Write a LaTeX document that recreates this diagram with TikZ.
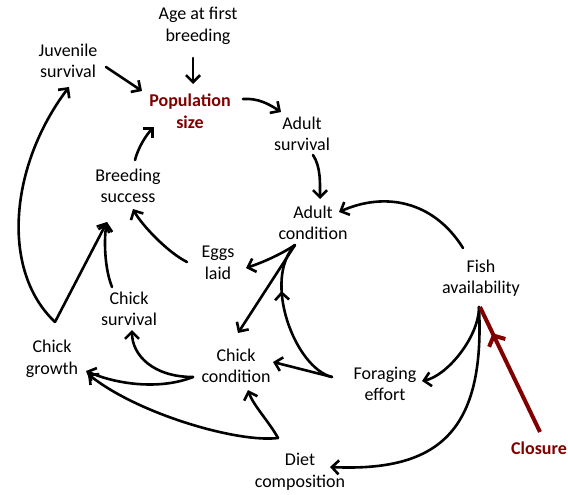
\documentclass[tikz,border=0pt]{standalone}
\usepackage{fontspec}
\setmainfont{Carlito}
\usetikzlibrary{arrows.meta,calc,decorations.markings}
\definecolor{dred}{RGB}{128,0,0}
\begin{document}
\begin{tikzpicture}[x=1pt,y=-1pt,
  lbl/.style={inner sep=0pt, align=center, font=\fontsize{18}{21.5}\selectfont},
  hl/.style={inner sep=0pt, align=center, text=dred, font=\fontsize{18}{21.5}\selectfont\bfseries},
  con/.style={line width=2.6pt, line cap=round, -{Straight Barb[length=7pt,width=14pt]}},
  midarrow/.style={line width=2.6pt, line cap=round, postaction={decorate},
    decoration={markings, mark=at position #1 with {\arrow{Straight Barb[length=7pt,width=14pt]}}}},
  redarrow/.style={draw=dred, line width=4pt, postaction={decorate},
    decoration={markings, mark=at position #1 with {\arrow[dred]{Straight Barb[length=8pt,width=18pt]}}}}
]
\useasboundingbox (0,0) rectangle (568,495);
\node[lbl] (age) at (198,26) {Age at first\\breeding};
\node[lbl] (juv) at (68,61) {Juvenile\\survival};
\node[hl] (pop) at (190,111) {Population\\size};
\node[lbl] (asurv) at (302,134) {Adult\\survival};
\node[lbl] (breed) at (128,186) {Breeding\\success};
\node[lbl] (acond) at (313,223) {Adult\\condition};
\node[lbl] (eggs) at (218,263) {Eggs\\laid};
\node[lbl] (fish) at (481,278) {Fish\\availability};
\node[lbl] (csurv) at (129,309) {Chick\\survival};
\node[lbl] (cgrowth) at (52,359) {Chick\\growth};
\node[lbl] (ccond) at (236,366) {Chick\\condition};
\node[lbl] (forage) at (385,384) {Foraging\\effort};
\node[lbl] (diet) at (300,472) {Diet\\composition};
\node[hl] (closure) at (539,448) {Closure};

% E1 - E5
\draw[con] ($(juv)+(38,6)$) -- ($(pop)+(-48,-20)$);
\draw[con] ($(age)+(-5,32)$) -- ($(pop)+(3,-27)$);
\draw[con] ($(pop)+(53,-12)$) .. controls +(15,-1) and +(-12,-8) .. ($(asurv)+(-21,-22)$);
\draw[con] ($(breed)+(7,-26)$) .. controls +(3,-12) and +(-8,8) .. ($(pop)+(-36,16)$);
\draw[con] ($(asurv)+(11,21)$) .. controls +(8,12) and +(0,-15) .. ($(acond)+(7,-24)$);
% fish -> adult condition
\draw[con] ($(fish)+(-18,-30)$) .. controls +(-30,-48) and +(45,-20) .. ($(acond)+(26,-11)$);
% adult condition -> eggs, chick condition
\draw[con] ($(acond)+(-18,22)$) .. controls +(-15,10) and +(15,-5) .. ($(eggs)+(28,5)$);
\draw[con] ($(acond)+(-18,22)$) -- ($(ccond)+(2,-33)$);
% foraging -> adult condition (arrow mid-way)
\draw[midarrow=0.68] ($(forage)+(-53,-7)$) .. controls +(-37,-9) and +(-33,35) .. ($(acond)+(-18,22)$);
% foraging -> chick condition
\draw[con] ($(forage)+(-53,-7)$) -- ($(ccond)+(37,-4)$);
% chick condition -> chick survival, chick growth
\draw[con] ($(ccond)+(-43,11)$) .. controls +(-40,0) and +(0,25) .. ($(csurv)+(3,21)$);
\draw[con] ($(ccond)+(-43,11)$) .. controls +(-30,12) and +(35,15) .. ($(cgrowth)+(34,12)$);
% diet -> chick condition, chick growth
\draw[con] ($(diet)+(-22,-34)$) .. controls +(-8,-15) and +(5,15) .. ($(ccond)+(12,24)$);
\draw[con] ($(diet)+(-22,-34)$) .. controls +(-40,5) and +(50,40) .. ($(cgrowth)+(36,15)$);
% fish -> foraging, diet
\draw[con] ($(fish)+(-2,29)$) .. controls +(0,30) and +(25,-5) .. ($(forage)+(37,-3)$);
\draw[con] ($(fish)+(-2,29)$) .. controls +(6,123) and +(110,5) .. ($(diet)+(30,-5)$);
% closure -> fish
\draw[redarrow=0.79] ($(closure)+(1,-16)$) -- ($(fish)+(-1,29)$);
% chick survival, chick growth -> breeding success
\draw[con] ($(csurv)+(-17,-22)$) .. controls +(-8,-20) and +(-3,15) .. ($(breed)+(-21,36)$);
\draw[con] ($(cgrowth)+(3,-37)$) -- ($(breed)+(-21,36)$);
% chick growth -> juvenile survival
\draw[con] ($(cgrowth)+(3,-37)$) .. controls +(-55,-52) and +(-59,78) .. ($(juv)+(1,26)$);
% eggs -> breeding success
\draw[con] ($(eggs)+(-31,-1)$) .. controls +(-20,-10) and +(8,15) .. ($(breed)+(5,23)$);
\end{tikzpicture}
\end{document}
